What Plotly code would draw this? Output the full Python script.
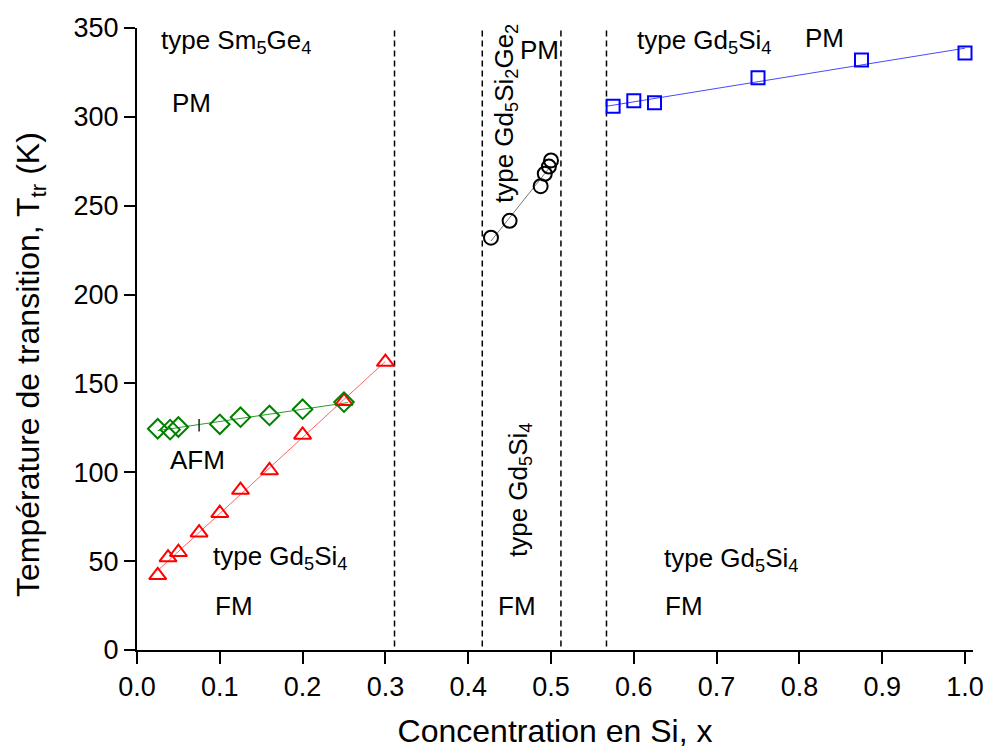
import numpy as np
import plotly.graph_objects as go

# ---------------- data ----------------
fm_low_x = [0.025, 0.0375, 0.05, 0.075, 0.1, 0.125, 0.16, 0.2, 0.25, 0.3]
fm_low_y = [42, 52, 55, 66, 77, 90, 101, 121, 140, 162]

afm_x = [0.025, 0.04, 0.05, 0.1, 0.125, 0.16, 0.2, 0.25]
afm_y = [124.5, 124, 125.5, 127, 131, 132, 135.5, 139.5]
afm_tick_x = [0.075]
afm_tick_y = [126.5]

mid_x = [0.4275, 0.45, 0.4875, 0.4925, 0.4975, 0.5]
mid_y = [232, 241.5, 261, 268, 272, 275.5]

high_x = [0.575, 0.6, 0.625, 0.75, 0.875, 1.0]
high_y = [306, 309, 308, 322, 332, 336]

boundaries_x = [0.311, 0.417, 0.512, 0.567]

x_tick_vals = [0.0, 0.1, 0.2, 0.3, 0.4, 0.5, 0.6, 0.7, 0.8, 0.9, 1.0]
x_tick_text = ["0.0", "0.1", "0.2", "0.3", "0.4", "0.5", "0.6", "0.7", "0.8", "0.9", "1.0"]
y_tick_vals = [0, 50, 100, 150, 200, 250, 300, 350]
y_tick_text = ["0", "50", "100", "150", "200", "250", "300", "350"]

FONT = "Liberation Sans, Arial, sans-serif"

# ---------------- layout geometry ----------------
W, H = 983, 749
ML, MR, MT, MB = 137, 10, 28, 99
PW = W - ML - MR
PH = H - MT - MB
X_MAX = PW / 828.0
Y_MAX = 350


def px2x(px):
    return (px - ML) / PW * X_MAX


def py2y(py):
    return (MT + PH - py) / PH * Y_MAX


def linfit(xs, ys, x0, x1):
    k, b = np.polyfit(xs, ys, 1)
    xx = np.array([x0, x1])
    return xx, k * xx + b


fig = go.Figure()

# boundaries (dashed)
for bx in boundaries_x:
    fig.add_trace(go.Scatter(x=[bx, bx], y=[2, 349], mode="lines",
                             line=dict(color="black", width=1.5, dash="6px,4px"),
                             showlegend=False, hoverinfo="skip"))

# fit lines
lx, ly = linfit(fm_low_x, fm_low_y, min(fm_low_x), max(fm_low_x))
fig.add_trace(go.Scatter(x=lx, y=ly, mode="lines", line=dict(color="rgba(255,60,60,0.8)", width=1),
                         showlegend=False, hoverinfo="skip"))
lx, ly = linfit(afm_x, afm_y, min(afm_x), max(afm_x) + 0.005)
fig.add_trace(go.Scatter(x=lx, y=ly, mode="lines", line=dict(color="rgba(0,140,0,0.85)", width=1),
                         showlegend=False, hoverinfo="skip"))
lx, ly = linfit(mid_x, mid_y, min(mid_x), max(mid_x))
fig.add_trace(go.Scatter(x=lx, y=ly, mode="lines", line=dict(color="#777777", width=1),
                         showlegend=False, hoverinfo="skip"))
lx, ly = linfit(high_x, high_y, boundaries_x[3], max(high_x))
fig.add_trace(go.Scatter(x=lx, y=ly, mode="lines", line=dict(color="rgba(40,40,255,0.85)", width=1),
                         showlegend=False, hoverinfo="skip"))

# markers
fig.add_trace(go.Scatter(x=fm_low_x, y=fm_low_y, mode="markers", name="FM",
                         marker=dict(symbol="triangle-up-open", size=15, color="#ff0000",
                                     line=dict(width=2, color="#ff0000")), showlegend=False))
fig.add_trace(go.Scatter(x=afm_x, y=afm_y, mode="markers", name="AFM",
                         marker=dict(symbol="diamond-open", size=15, color="#008000",
                                     line=dict(width=2, color="#008000")), showlegend=False))
fig.add_trace(go.Scatter(x=afm_tick_x, y=afm_tick_y, mode="markers", name="AFM",
                         marker=dict(symbol="line-ns", size=9, color="#222222",
                                     line=dict(width=1.5, color="#222222")), showlegend=False))
fig.add_trace(go.Scatter(x=mid_x, y=mid_y, mode="markers", name="Gd5Si2Ge2",
                         marker=dict(symbol="circle-open", size=14, color="black",
                                     line=dict(width=2, color="black")), showlegend=False))
fig.add_trace(go.Scatter(x=high_x, y=high_y, mode="markers", name="Gd5Si4",
                         marker=dict(symbol="square-open", size=13, color="#0000ff",
                                     line=dict(width=2, color="#0000ff")), showlegend=False))

# ---------------- annotations ----------------
AF = dict(family=FONT, size=26, color="black")


def label(text, left_px, base_px, has_sub=False):
    cy = base_px - (6 if has_sub else 9)
    fig.add_annotation(x=px2x(left_px), y=py2y(cy), text=text, showarrow=False,
                       xanchor="left", yanchor="middle", font=AF, borderpad=0)


label("type Sm<sub>5</sub>Ge<sub>4</sub>", 160, 47, True)
label("PM", 171, 112)
label("AFM", 169, 469)
label("type Gd<sub>5</sub>Si<sub>4</sub>", 212, 563, True)
label("FM", 214, 615)
label("type Gd<sub>5</sub>Si<sub>4</sub>", 636, 47, True)
label("PM", 804, 47)
label("PM", 519, 59)
label("FM", 497, 615)
label("type Gd<sub>5</sub>Si<sub>4</sub>", 663, 565, True)
label("FM", 664, 615)

fig.add_annotation(x=px2x(505), y=py2y(114), text="type Gd<sub>5</sub>Si<sub>2</sub>Ge<sub>2</sub>",
                   textangle=-90, showarrow=False, xanchor="center", yanchor="middle", font=AF, borderpad=0)
fig.add_annotation(x=px2x(519), y=py2y(490), text="type Gd<sub>5</sub>Si<sub>4</sub>",
                   textangle=-90, showarrow=False, xanchor="center", yanchor="middle", font=AF, borderpad=0)

# y-axis title as annotation (offset from the axis centre like the original)
fig.add_annotation(x=(30 - ML) / PW, y=(MT + PH - 365) / PH, xref="paper", yref="paper",
                   text="Température de transition, T<sub>tr</sub> (K)", textangle=-90,
                   showarrow=False, xanchor="center", yanchor="middle",
                   font=dict(family=FONT, size=32, color="black"), borderpad=0)

fig.update_layout(
    width=W, height=H,
    margin=dict(l=ML, r=MR, t=MT, b=MB, pad=0, autoexpand=False),
    paper_bgcolor="white", plot_bgcolor="white",
    font=dict(family=FONT, color="black"),
    xaxis=dict(range=[0, X_MAX], tickmode="array", tickvals=x_tick_vals, ticktext=x_tick_text,
               ticks="outside", ticklen=12, tickwidth=2, tickcolor="black",
               showline=True, linewidth=2, linecolor="black", showgrid=False, zeroline=False,
               ticklabeloverflow="allow", automargin=False,
               tickfont=dict(family=FONT, size=27, color="black"),
               title=dict(text="Concentration en Si, x", font=dict(family=FONT, size=32, color="black"),
                          standoff=21)),
    yaxis=dict(range=[0, Y_MAX], tickmode="array", tickvals=y_tick_vals, ticktext=y_tick_text,
               ticks="outside", ticklen=11, tickwidth=1.5, tickcolor="black",
               showline=True, linewidth=2, linecolor="black", showgrid=False, zeroline=False,
               ticklabeloverflow="allow", automargin=False,
               tickfont=dict(family=FONT, size=27, color="black")),
)

fig.write_html("out.html")
